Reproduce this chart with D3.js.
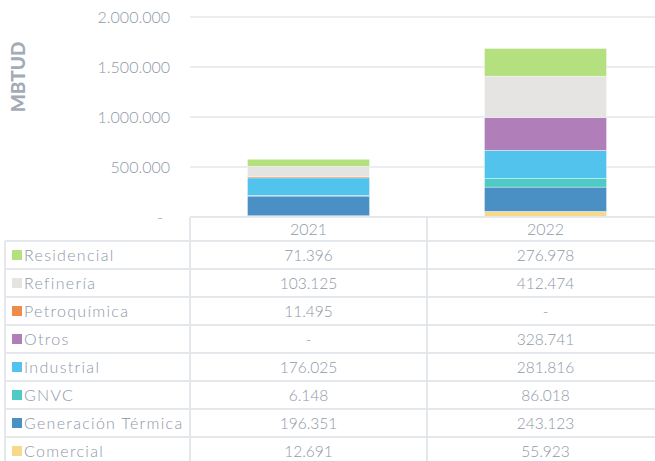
<!DOCTYPE html>
<html>
<head>
<meta charset="utf-8">
<script src="https://cdn.jsdelivr.net/npm/d3@7"></script>
<style>
  body { margin: 0; background: #fff; }
  svg { display: block; font-family: "Lato", sans-serif; font-weight: 300; }
</style>
</head>
<body>
<svg id="chart" width="655" height="461"></svg>
<script>
const years = ["2021", "2022"]
// table order, top to bottom (stack order is the reverse)
const sectors = ["Residencial", "Refinería", "Petroquímica", "Otros", "Industrial", "GNVC", "Generación Térmica", "Comercial"]
const colors = ["#b4e07f", "#e5e4e2", "#f08c4b", "#b07fba", "#51c3ed", "#4ecbc4", "#4a90c5", "#f7d98b"]
const values2021 = [71396, 103125, 11495, null, 176025, 6148, 196351, 12691]
const values2022 = [276978, 412474, null, 328741, 281816, 86018, 243123, 55923]
const yTicks = [0, 500000, 1000000, 1500000, 2000000]

const textColor = "#8e98a6"
const lineColor = "#e4e7eb"

const svg = d3.select("#chart")

const loc = d3.formatLocale({decimal: ",", thousands: ".", grouping: [3], currency: ["", ""]})
const fmt = v => (v == null || v === 0) ? "-" : loc.format(",")(v)

const x = d3.scaleBand().domain(years).range([190, 664]).padding(0)
const y = d3.scaleLinear().domain([0, 2000000]).range([217, 17])

// gridlines
svg.append("g")
  .selectAll("line")
  .data(yTicks.slice(1))
  .join("line")
  .attr("x1", 190).attr("x2", 655)
  .attr("y1", d => y(d)).attr("y2", d => y(d))
  .attr("stroke", lineColor).attr("stroke-width", 1.5)

// y axis labels
const yAxis = d3.axisLeft(y).tickValues(yTicks).tickSize(0).tickPadding(0).tickFormat(fmt)
const yAxisG = svg.append("g").attr("transform", "translate(170,0)").call(yAxis)
yAxisG.select(".domain").remove()
yAxisG.selectAll("text")
  .attr("fill", textColor)
  .attr("dy", "0.36em")
  .attr("dx", d => d === 0 ? -7 : 0)
  .style("font-size", "16px")
  .style("font-family", "Lato, sans-serif")
  .style("font-weight", 300)

svg.append("text")
  .attr("transform", "translate(25,77) rotate(-90)")
  .attr("text-anchor", "middle")
  .attr("fill", "#a3abb6")
  .style("font-size", "19px")
  .style("font-weight", 900)
  .text("MBTUD")

// stacked bars
const stackOrder = sectors.slice().reverse()
const rows = years.map((yr, i) => {
  const o = {year: yr}
  sectors.forEach((s, j) => { o[s] = (i === 0 ? values2021 : values2022)[j] || 0 })
  return o
})
const series = d3.stack().keys(stackOrder)(rows)
const color = d3.scaleOrdinal().domain(sectors).range(colors)
const barW = x.bandwidth() * 0.515

svg.append("g")
  .selectAll("g")
  .data(series)
  .join("g")
  .attr("fill", d => color(d.key))
  .selectAll("rect")
  .data(d => d)
  .join("rect")
  .attr("x", d => x(d.data.year) + (x.bandwidth() - barW) / 2)
  .attr("width", barW)
  .attr("y", d => y(d[1]))
  .attr("height", d => y(d[0]) - y(d[1]))
  .attr("stroke", "#ffffff")
  .attr("stroke-opacity", 0.6)
  .attr("stroke-width", 0.6)

// data table
const rowTop = 241, rowH = 28
const tableG = svg.append("g")

// horizontal lines
tableG.append("line")
  .attr("x1", 190).attr("x2", 655).attr("y1", 217).attr("y2", 217)
  .attr("stroke", lineColor).attr("stroke-width", 2)
tableG.selectAll("line.h")
  .data(d3.range(sectors.length))
  .join("line")
  .attr("class", "h")
  .attr("x1", 5).attr("x2", 655)
  .attr("y1", i => rowTop + i * rowH).attr("y2", i => rowTop + i * rowH)
  .attr("stroke", lineColor).attr("stroke-width", 2)

// vertical lines
tableG.append("line")
  .attr("x1", 5).attr("x2", 5).attr("y1", rowTop).attr("y2", 461)
  .attr("stroke", lineColor).attr("stroke-width", 2)
tableG.selectAll("line.v")
  .data(years)
  .join("line")
  .attr("class", "v")
  .attr("x1", d => x(d)).attr("x2", d => x(d))
  .attr("y1", 217).attr("y2", 461)
  .attr("stroke", lineColor).attr("stroke-width", 2)

// header
tableG.selectAll("text.yr")
  .data(years)
  .join("text")
  .attr("class", "yr")
  .attr("x", d => x(d) + x.bandwidth() / 2)
  .attr("y", 235)
  .attr("text-anchor", "middle")
  .attr("fill", textColor)
  .style("font-size", "16px")
  .text(d => d)

// legend keys + labels
const rowG = tableG.selectAll("g.row")
  .data(sectors)
  .join("g")
  .attr("class", "row")
  .attr("transform", (d, i) => `translate(0,${rowTop + i * rowH})`)

rowG.append("rect")
  .attr("x", 12).attr("y", 9).attr("width", 10).attr("height", 10)
  .attr("fill", d => color(d))

rowG.append("text")
  .attr("x", 24).attr("y", 20)
  .attr("fill", textColor)
  .style("font-size", "16px")
  .style("letter-spacing", "1.3px")
  .text(d => d)

years.forEach((yr, k) => {
  const vals = k === 0 ? values2021 : values2022
  rowG.append("text")
    .attr("x", x(yr) + x.bandwidth() / 2)
    .attr("y", 20)
    .attr("text-anchor", "middle")
    .attr("fill", textColor)
    .style("font-size", "15.5px")
    .text((d, i) => fmt(vals[i]))
})
</script>
</body>
</html>
